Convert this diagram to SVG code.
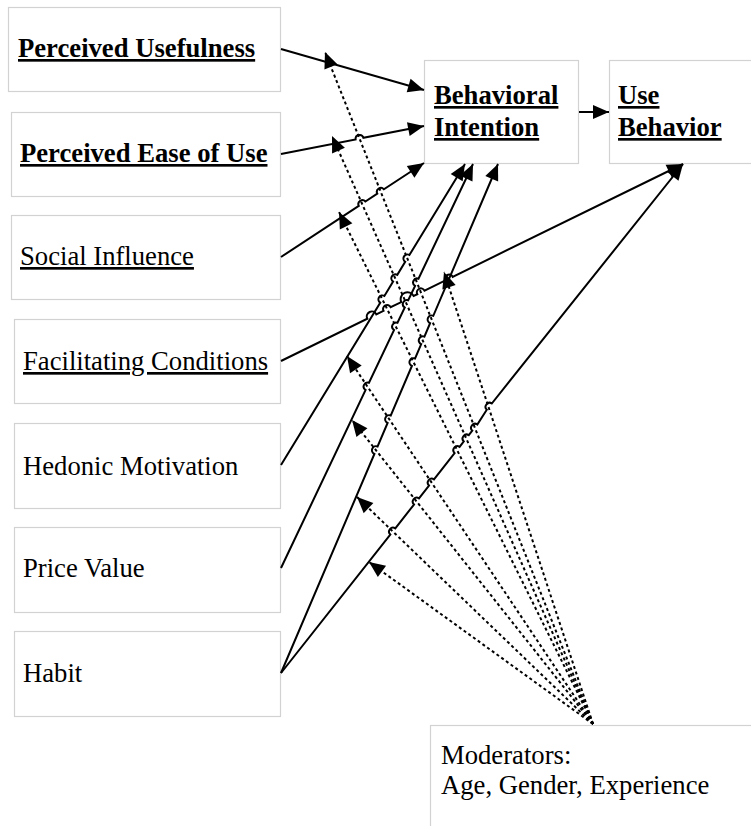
<svg xmlns="http://www.w3.org/2000/svg" width="751" height="826" viewBox="0 0 751 826">
<defs>
<marker id="arr" markerUnits="userSpaceOnUse" markerWidth="17" markerHeight="14" refX="16" refY="7" orient="auto" overflow="visible">
<path d="M0,0 L16,7 L0,14 z" fill="#000" stroke="none"/>
</marker>
</defs>
<style>
.box{fill:#fff;stroke:#d2d2d2;stroke-width:1.2}
.t{font-family:"Liberation Serif","Times New Roman",serif;font-size:26.67px;fill:#000}
.b{font-weight:bold}
.u{text-decoration:underline}
.s{fill:none;stroke:#000;stroke-width:2;marker-end:url(#arr)}
.d{fill:none;stroke:#000;stroke-width:2;stroke-dasharray:3 2.8;marker-end:url(#arr)}
</style>
<rect width="751" height="826" fill="#fff"/>
<g id="pu"><rect class="box" x="8.5" y="7.5" width="272" height="84"/><text class="t b u" x="18" y="57">Perceived Usefulness</text></g>
<g id="peu"><rect class="box" x="11.5" y="112.5" width="269" height="84"/><text class="t b u" x="20" y="162">Perceived Ease of Use</text></g>
<g id="si"><rect class="box" x="11.5" y="215.5" width="269" height="84"/><text class="t u" x="20" y="265">Social Influence</text></g>
<g id="fc"><rect class="box" x="14.5" y="319.5" width="266" height="84"/><text class="t u" x="23" y="370">Facilitating Conditions</text></g>
<g id="hm"><rect class="box" x="14.5" y="423.5" width="266" height="85"/><text class="t" x="23" y="475">Hedonic Motivation</text></g>
<g id="pv"><rect class="box" x="14.5" y="527.5" width="266" height="85"/><text class="t" x="23" y="577">Price Value</text></g>
<g id="habit"><rect class="box" x="14.5" y="631.5" width="266" height="85"/><text class="t" x="23" y="682">Habit</text></g>
<g id="bi"><rect class="box" x="424.5" y="60.5" width="154" height="103"/><text class="t b u" x="434" y="104">Behavioral</text><text class="t b u" x="434" y="136">Intention</text></g>
<g id="ub"><rect class="box" x="609.5" y="60.5" width="150" height="103"/><text class="t b u" x="618" y="104">Use</text><text class="t b u" x="618" y="136">Behavior</text></g>
<g id="mod"><rect class="box" x="430.5" y="725.5" width="340" height="120"/><text class="t" x="441" y="764">Moderators:</text><text class="t" x="441" y="794">Age, Gender, Experience</text></g>
<g id="connectors">
<path class="d" d="M593,724 L325,52"/>
<path class="d" d="M593,724 L332,136"/>
<path class="d" d="M593,724 L339,212"/>
<path class="d" d="M593,724 L444,272"/>
<path class="d" d="M593,724 L347,356"/>
<path class="d" d="M593,724 L352,420"/>
<path class="d" d="M593,724 L357,497"/>
<path class="d" d="M593,724 L369,562"/>
<path class="s" d="M281,49 L424,90"/>
<path class="s" d="M281,154 L355.6,139.4 A4,4 0 0 1 363.4,137.8 L424,126"/>
<path class="s" d="M281,257 L358.8,205.9 A4,4 0 0 1 365.4,201.5 L377.3,193.7 A4,4 0 0 1 383.9,189.3 L424,163"/>
<path class="s" d="M281,361 L367.3,318.7 A5,5 0 0 1 376.3,314.3 L383.5,310.8 A4,4 0 0 1 390.7,307.2 L401.3,302.05 A6.9,6.9 0 0 1 413.7,296 L417.3,294.2 A4,4 0 0 1 424.5,290.6 L445.5,280.4 A4,4 0 0 1 452.7,276.8 L683,164"/>
<path class="s" d="M281,465 L380.2,302.7 A4,4 0 0 1 384.4,295.9 L393.1,281.6 A4,4 0 0 1 397.3,274.8 L405.2,261.8 A4,4 0 0 1 409.4,255 L465,164"/>
<path class="s" d="M281,568 L365.6,390 A4,4 0 0 1 369,382.8 L394.1,330 A4,4 0 0 1 397.5,322.8 L404.8,307.5 A4,4 0 0 1 408.2,300.3 L415.1,285.9 A4,4 0 0 1 418.5,278.7 L473,164"/>
<path class="s" d="M281,673 L374.4,453.9 A4,4 0 0 1 377.6,446.5 L387.6,422.9 A4,4 0 0 1 390.8,415.5 L411.9,365.9 A4,4 0 0 1 415.1,358.5 L421.2,344.1 A4,4 0 0 1 424.4,336.7 L430.1,323.2 A4,4 0 0 1 433.3,315.8 L498,164"/>
<path class="s" d="M281,673 L390.3,534.5 A4,4 0 0 1 395.3,528.3 L414,504.5 A4,4 0 0 1 419,498.3 L429,485.5 A4,4 0 0 1 434,479.3 L454.6,453.1 A4,4 0 0 1 459.6,446.9 L463.8,441.4 A4,4 0 0 1 468.8,435.2 L472.3,430.7 A4,4 0 0 1 477.3,424.5 L486.8,409.7 A4,4 0 0 1 491.8,403.5 L683,164"/>
<path class="s" d="M579,112 L609,112"/>
</g>
</svg>
